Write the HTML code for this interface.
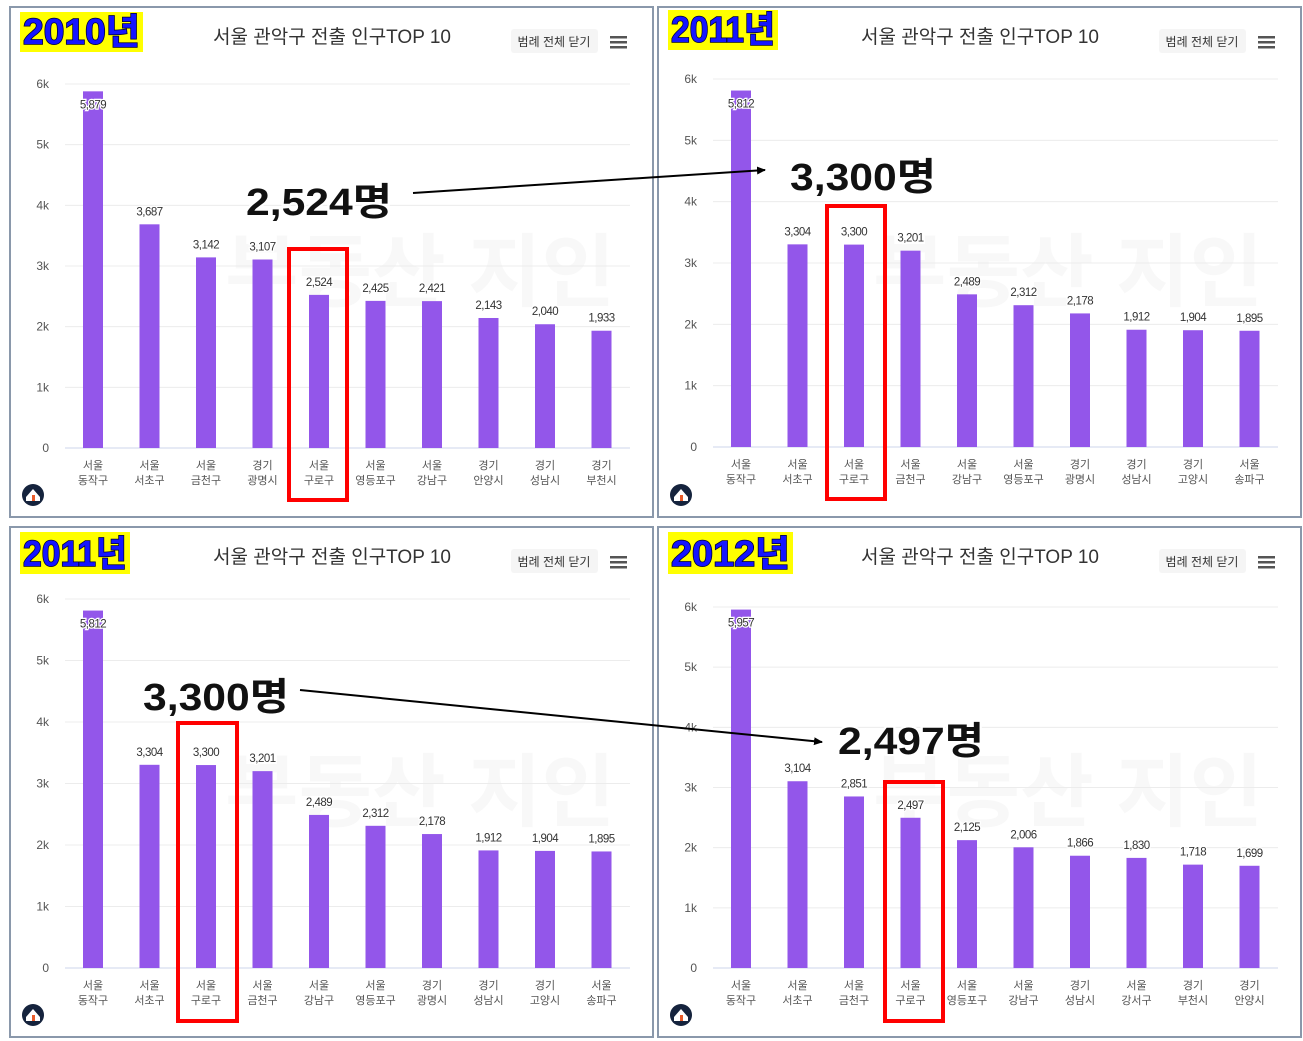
<!DOCTYPE html>
<html><head><meta charset="utf-8"><style>
html,body{margin:0;padding:0;background:#fff;}
svg{display:block;font-family:"Liberation Sans","Noto Sans CJK KR",sans-serif;}
</style></head><body>
<svg id="s" width="1303" height="1041" xmlns="http://www.w3.org/2000/svg"></svg>
<script>
const P=[
{ox:0,oy:0,y6:84,y0:448,year:"2010년",yb:[20,12,123,40],
 v:[5879,3687,3142,3107,2524,2425,2421,2143,2040,1933],
 c:[["서울","동작구"],["서울","서초구"],["서울","금천구"],["경기","광명시"],["서울","구로구"],["서울","영등포구"],["서울","강남구"],["경기","안양시"],["경기","성남시"],["경기","부천시"]]},
{ox:648,oy:0,y6:79,y0:447,year:"2011년",yb:[668,10,110,40],
 v:[5812,3304,3300,3201,2489,2312,2178,1912,1904,1895],
 c:[["서울","동작구"],["서울","서초구"],["서울","구로구"],["서울","금천구"],["서울","강남구"],["서울","영등포구"],["경기","광명시"],["경기","성남시"],["경기","고양시"],["서울","송파구"]]},
{ox:0,oy:520,y6:599,y0:968,year:"2011년",yb:[20,532,110,42],
 v:[5812,3304,3300,3201,2489,2312,2178,1912,1904,1895],
 c:[["서울","동작구"],["서울","서초구"],["서울","구로구"],["서울","금천구"],["서울","강남구"],["서울","영등포구"],["경기","광명시"],["경기","성남시"],["경기","고양시"],["서울","송파구"]]},
{ox:648,oy:520,y6:607,y0:968,year:"2012년",yb:[668,532,125,42],
 v:[5957,3104,2851,2497,2125,2006,1866,1830,1718,1699],
 c:[["서울","동작구"],["서울","서초구"],["서울","금천구"],["서울","구로구"],["서울","영등포구"],["서울","강남구"],["경기","성남시"],["서울","강서구"],["경기","부천시"],["경기","안양시"]]}
];
let h='';
P.forEach(p=>{
 const ox=p.ox,oy=p.oy;
 h+=`<rect x="${10+ox}" y="${7+oy}" width="643" height="510" fill="#fff" stroke="#8a98ab" stroke-width="2"/>`;
 h+=`<text x="${332+ox}" y="${43+oy}" font-size="19" fill="#333" text-anchor="middle">서울 관악구 전출 인구TOP 10</text>`;
 h+=`<rect x="${511+ox}" y="${29+oy}" width="87" height="24" rx="3" fill="#f5f5f5"/>`;
 h+=`<text x="${554+ox}" y="${46+oy}" font-size="12" fill="#333" text-anchor="middle">범례 전체 닫기</text>`;
 for(let i=0;i<3;i++)h+=`<rect x="${610+ox}" y="${36+oy+i*5}" width="17" height="2.5" fill="#555"/>`;
 h+=`<text x="${420+ox}" y="${300+oy}" font-size="80" font-weight="bold" fill="#000" opacity="0.025" text-anchor="middle">부동산 지인</text>`;
 const k=(p.y0-p.y6)/6;
 for(let j=0;j<=6;j++){const y=p.y0-j*k;
  h+=`<line x1="${65+ox}" x2="${630+ox}" y1="${y}" y2="${y}" stroke="${j?'#ececec':'#ccd6eb'}" stroke-width="1"/>`;
  h+=`<text x="${49+ox}" y="${y+4}" font-size="12" fill="#555" text-anchor="end">${j?j+'k':'0'}</text>`;}
 p.v.forEach((v,i)=>{const cx=93+ox+i*56.5,top=p.y0-v/1000*k;
  h+=`<rect x="${cx-10}" y="${top}" width="20" height="${p.y0-top}" fill="#9356ea"/>`;
  const ly=i==0?top+17:top-9;
  h+=`<text x="${cx}" y="${ly}" font-size="11.5" fill="#333" text-anchor="middle" stroke="#fff" stroke-width="2.5" paint-order="stroke" letter-spacing="-0.5">${v.toLocaleString('en-US')}</text>`;
  h+=`<text x="${cx}" y="${p.y0+21}" font-size="11" fill="#555" text-anchor="middle">${p.c[i][0]}</text>`;
  h+=`<text x="${cx}" y="${p.y0+36}" font-size="11" fill="#555" text-anchor="middle">${p.c[i][1]}</text>`;});
 h+=`<circle cx="${33+ox}" cy="${495+oy}" r="11" fill="#15233d"/><path d="M${26+ox} ${497+oy} L${33+ox} ${489+oy} L${40+ox} ${497+oy} L${40+ox} ${501+oy} L${26+ox} ${501+oy}Z" fill="#fff"/><rect x="${32+ox}" y="${495+oy}" width="3" height="6" fill="#e85b2a"/>`;
 const b=p.yb;
 h+=`<rect x="${b[0]}" y="${b[1]}" width="${b[2]}" height="${b[3]}" fill="#ffff00"/>`;
 h+=`<text x="${b[0]+b[2]/2}" y="${b[1]+b[3]-8}" font-size="36" font-weight="bold" fill="#1515ff" stroke="#000033" stroke-width="1.5" paint-order="stroke" text-anchor="middle" textLength="${b[2]-6}" lengthAdjust="spacingAndGlyphs">${p.year}</text>`;
});
const red=(x,y,w,hh)=>`<rect x="${x}" y="${y}" width="${w}" height="${hh}" fill="none" stroke="#f00" stroke-width="4"/>`;
h+=red(289,249,58,251)+red(827,206,58,293)+red(178,723,59,298)+red(885,782,58,239);
h+=`<defs><marker id="a" markerWidth="10" markerHeight="10" refX="8" refY="5" orient="auto" markerUnits="userSpaceOnUse"><path d="M0,1 L9,5 L0,9Z" fill="#000"/></marker></defs>`;
const ann=(x,y,t)=>`<text x="${x}" y="${y}" font-size="38" font-weight="bold" fill="#111" stroke="#fff" stroke-width="4" paint-order="stroke" textLength="146" lengthAdjust="spacingAndGlyphs">${t}</text>`;
h+=`<line x1="413" y1="193" x2="765" y2="170" stroke="#000" stroke-width="2" marker-end="url(#a)"/>`;
h+=`<line x1="300" y1="690" x2="822" y2="742" stroke="#000" stroke-width="2" marker-end="url(#a)"/>`;
h+=ann(246,215,"2,524명")+ann(790,190,"3,300명")+ann(143,710,"3,300명")+ann(838,754,"2,497명");
document.getElementById('s').innerHTML=h;
</script>
</body></html>
